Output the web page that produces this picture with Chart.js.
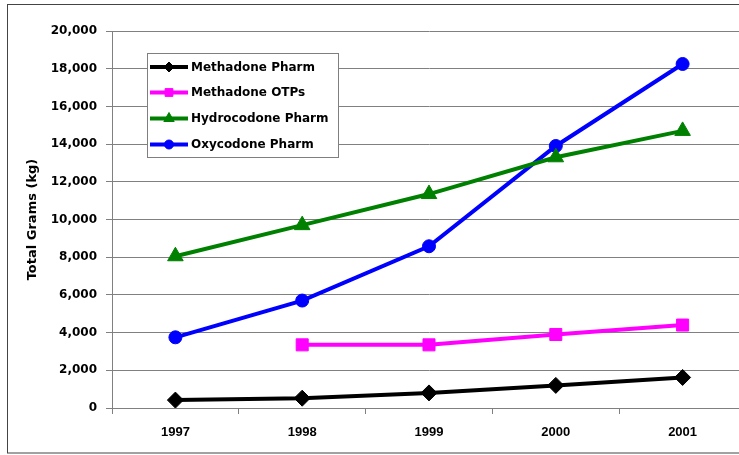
<!DOCTYPE html>
<html>
<head>
<meta charset="utf-8">
<script src="https://cdn.jsdelivr.net/npm/chart.js@4/dist/chart.umd.min.js"></script>
<style>
html,body{margin:0;padding:0;background:#fff;overflow:hidden;width:739px;height:455px;}
#wrap{position:relative;width:756px;height:455px;}
</style>
</head>
<body>
<div id="wrap"><canvas id="c"></canvas></div>
<script>
const years = ['1997', '1998', '1999', '2000', '2001'];
const methadonePharm = [420, 520, 800, 1200, 1620];
const methadoneOTPs = [null, 3350, 3350, 3900, 4400];
const hydrocodonePharm = [8050, 9700, 11350, 13300, 14700];
const oxycodonePharm = [3750, 5700, 8580, 13900, 18250];
const yTicks = [0, 2000, 4000, 6000, 8000, 10000, 12000, 14000, 16000, 18000, 20000];
const seriesNames = ['Methadone Pharm', 'Methadone OTPs', 'Hydrocodone Pharm', 'Oxycodone Pharm'];

const colors = ['#000000', '#ff00ff', '#008000', '#0000ff'];
const styles = ['rectRot', 'rect', 'triangle', 'circle'];
const radii = [8, 8.5, 9, 6.5];
const legendRadii = [5, 5.5, 6, 4.5];

function mkSet(i, data) {
  return {
    label: seriesNames[i], data: data,
    borderColor: colors[i], backgroundColor: colors[i],
    borderWidth: 4, pointStyle: styles[i], pointRadius: radii[i],
    pointBorderWidth: 1, pointBackgroundColor: colors[i], pointBorderColor: colors[i],
    tension: 0, spanGaps: false
  };
}

function drawMarker(ctx, style, r, x, y, color) {
  ctx.save();
  ctx.fillStyle = color; ctx.strokeStyle = color; ctx.lineWidth = 1;
  ctx.beginPath();
  if (style === 'circle') {
    ctx.arc(x, y, r, 0, Math.PI * 2);
  } else if (style === 'rect') {
    const s = Math.SQRT1_2 * r;
    ctx.rect(x - s, y - s, 2 * s, 2 * s);
  } else if (style === 'rectRot') {
    ctx.moveTo(x, y - r); ctx.lineTo(x + r, y); ctx.lineTo(x, y + r); ctx.lineTo(x - r, y); ctx.closePath();
  } else if (style === 'triangle') {
    ctx.moveTo(x, y - r);
    ctx.lineTo(x + Math.sin(Math.PI * 2 / 3) * r, y - Math.cos(Math.PI * 2 / 3) * r);
    ctx.lineTo(x + Math.sin(Math.PI * 4 / 3) * r, y - Math.cos(Math.PI * 4 / 3) * r);
    ctx.closePath();
  }
  ctx.fill(); ctx.stroke();
  ctx.restore();
}

const decor = {
  id: 'decor',
  afterDraw(chart) {
    const ctx = chart.ctx;
    ctx.save();
    const bx = 147, by = 53, bw = 191, bh = 104;
    ctx.fillStyle = '#ffffff';
    ctx.fillRect(bx, by, bw, bh);
    ctx.strokeStyle = '#7f7f7f'; ctx.lineWidth = 1;
    ctx.strokeRect(bx + 0.5, by + 0.5, bw, bh);
    const rows = [67, 92.5, 118.5, 144.5];
    chart.data.datasets.forEach((ds, i) => {
      const y = rows[i];
      ctx.strokeStyle = colors[i]; ctx.lineWidth = 4;
      ctx.beginPath(); ctx.moveTo(150, y); ctx.lineTo(188, y); ctx.stroke();
      drawMarker(ctx, styles[i], legendRadii[i], 169, y, colors[i]);
      ctx.fillStyle = '#000';
      ctx.font = 'bold 12px "DejaVu Sans"';
      ctx.textAlign = 'left'; ctx.textBaseline = 'middle';
      ctx.fillText(ds.label, 191, y + 0.5);
    });
    ctx.strokeStyle = '#444'; ctx.lineWidth = 1;
    ctx.strokeRect(7.5, 4.5, 760, 448.5);
    ctx.restore();
  }
};

new Chart(document.getElementById('c'), {
  type: 'line',
  data: {
    labels: years,
    datasets: [
      mkSet(0, methadonePharm),
      mkSet(1, methadoneOTPs),
      mkSet(2, hydrocodonePharm),
      mkSet(3, oxycodonePharm)
    ]
  },
  options: {
    responsive: true,
    maintainAspectRatio: false,
    animation: false,
    devicePixelRatio: 1,
    layout: { padding: { left: 0, top: 31, right: 0, bottom: 0 } },
    plugins: { legend: { display: false }, tooltip: { enabled: false } },
    scales: {
      x: {
        offset: true,
        grid: { offset: true, drawOnChartArea: false, drawTicks: true, tickLength: 6, color: '#808080', lineWidth: 1 },
        border: { display: true, color: '#808080', width: 1 },
        ticks: { color: '#000', padding: 11, maxRotation: 0, font: { family: '"Liberation Sans", Arial', weight: 'bold', size: 13 } },
        afterFit(scale) { scale.height = 47; }
      },
      y: {
        min: 0, max: 20000,
        afterBuildTicks(scale) { scale.ticks = yTicks.map(v => ({ value: v })); },
        grid: { drawTicks: true, tickLength: 6, color: '#808080', lineWidth: 1 },
        border: { display: true, color: '#808080', width: 1 },
        ticks: {
          color: '#000', padding: 9,
          font: { family: '"DejaVu Sans"', weight: 'bold', size: 12 },
          callback: (v) => v.toLocaleString('en-US')
        },
        title: {
          display: true, text: 'Total Grams (kg)', color: '#000',
          font: { family: '"DejaVu Sans"', weight: 'bold', size: 13 },
          padding: { top: 25, bottom: 0 }
        },
        afterFit(scale) { scale.width = 112; }
      }
    }
  },
  plugins: [decor]
});
</script>
</body>
</html>
